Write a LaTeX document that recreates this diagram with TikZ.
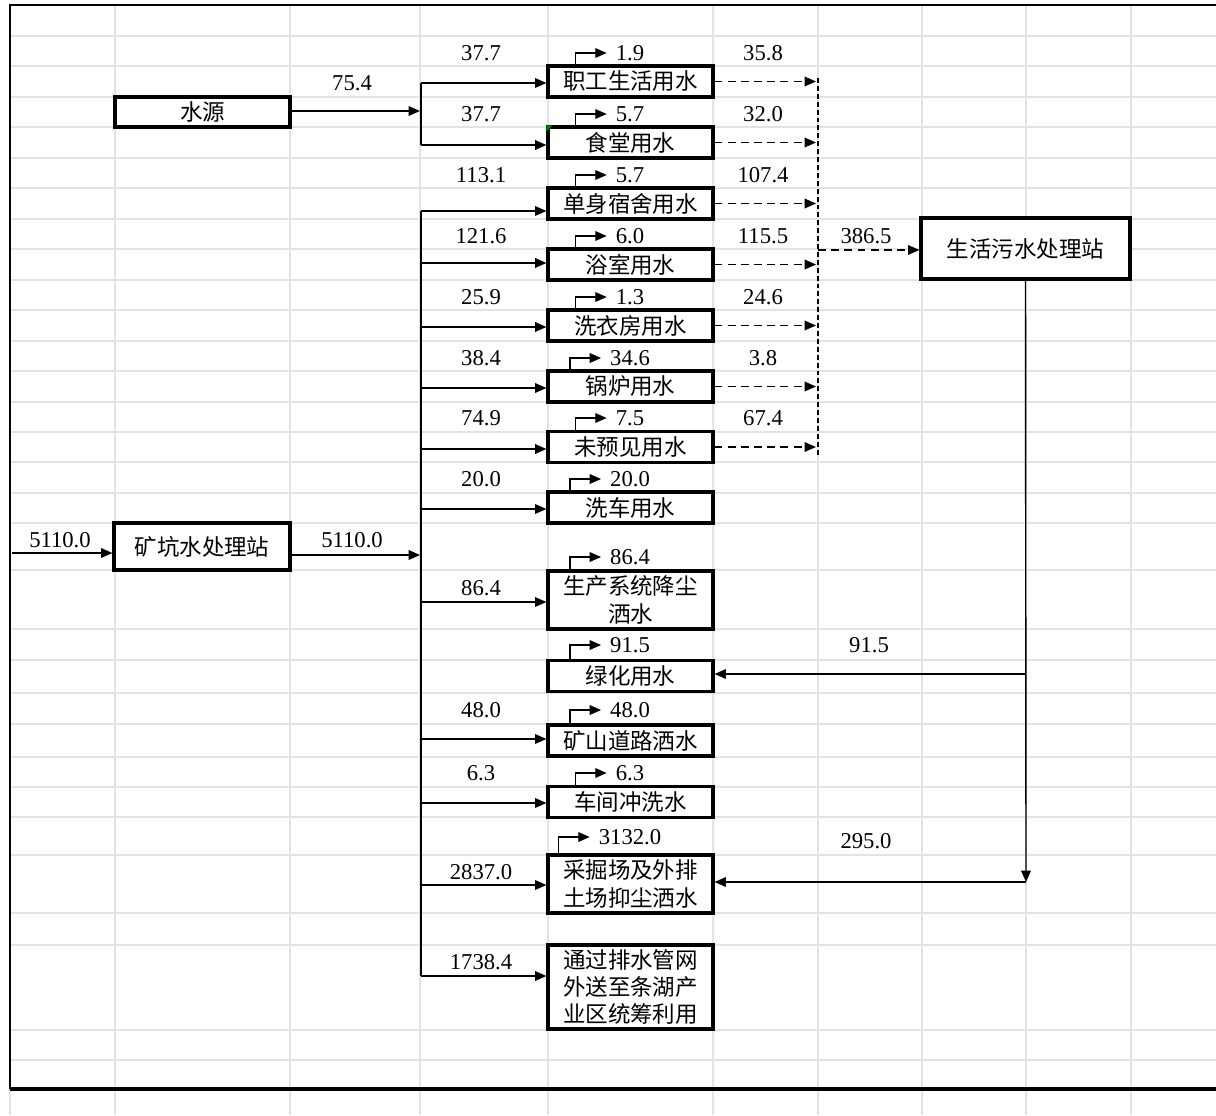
\documentclass[tikz,border=0pt]{standalone}
\usepackage{fontspec}
\setmainfont{Liberation Serif}
\newfontfamily\cjk{Noto Sans CJK SC}
\usetikzlibrary{calc, arrows.meta}

\tikzset{
  box/.style={draw, line width=1.8pt, fill=white, minimum width=3.3cm, minimum height=0.62cm,
    inner sep=1pt, align=center, font=\cjk\fontsize{12.8}{15.5}\selectfont},
  num/.style={inner sep=0pt, font=\fontsize{12.9}{15}\selectfont},
  pipe/.style={line width=0.8pt},
  flow/.style={pipe, -{Triangle[length=6.5pt,width=5.5pt]}},
  waste/.style={flow, dash pattern=on 4.5pt off 3pt},
  loss/.style={flow, shorten >=5pt},
  gline/.style={draw=black!11, line width=0.9pt}
}

\begin{document}
\begin{tikzpicture}[x=0.02cm, y=-0.02cm]
  \useasboundingbox (0,0) rectangle (1216,1115);

  % Sheet grid
  \foreach \gx in {115,290,420,548,713,818,922,1026,1131}
    \draw[gline] (\gx,5) -- (\gx,1115);
  \draw[gline] (10,1089) -- (10,1115);
  \foreach \gy in {36,66,97,127,158,188,219,249,280,310,341,371,402,432,462,493,523,570,629,660,693,724,757,787,817,855,913,945,1030,1060}
    \draw[gline] (10,\gy) -- (1216,\gy);

  % Frame
  \draw[line width=1.2pt] (1216,5) -- (10,5) -- (10,1089);
  \draw[line width=1.8pt] (10,1089) -- (1216,1089);

  % Define boxes
  \node[box, minimum width=3.5cm, minimum height=0.6cm] (src) at (202.5,112) {水源};
  \node[box, minimum width=3.52cm, minimum height=0.94cm] (mine) at (202,546.5) {矿坑水处理站};
  \node[box] (zg) at (630.5,81.5) {职工生活用水};
  \node[box] (st) at (630.5,142.5) {食堂用水};
  \node[box] (ds) at (630.5,203.5) {单身宿舍用水};
  \node[box] (ys) at (630.5,264.5) {浴室用水};
  \node[box] (xy) at (630.5,325.5) {洗衣房用水};
  \node[box] (gl) at (630.5,386.5) {锅炉用水};
  \node[box] (wy) at (630.5,447) {未预见用水};
  \node[box] (xc) at (630.5,507.5) {洗车用水};
  \node[box, minimum height=1.16cm] (sc) at (630.5,600) {生产系统降尘\\洒水};
  \node[box] (lh) at (630.5,676) {绿化用水};
  \node[box] (ks) at (630.5,740.5) {矿山道路洒水};
  \node[box] (cj) at (630.5,802) {车间冲洗水};
  \node[box, minimum height=1.16cm] (cw) at (630.5,884) {采掘场及外排\\土场抑尘洒水};
  \node[box, minimum height=1.68cm] (tg) at (630.5,987) {通过排水管网\\外送至条湖产\\业区统筹利用};
  \node[box, minimum width=4.18cm, minimum height=1.22cm] (wws) at (1025.5,248.5) {生活污水处理站};
  \fill[green!50!black] (st.north west) -- ++(6,0) -- ++(-6,6) -- cycle;

  % Define points
  \coordinate (in) at (12,553);
  \coordinate (s1) at (420,111);
  \coordinate (m1) at (420,555);
  \coordinate (j1) at (421,83);
  \coordinate (j2) at (421,145);
  \coordinate (k3) at (421,211);
  \coordinate (k4) at (421,263);
  \coordinate (k5) at (421,327);
  \coordinate (k6) at (421,388);
  \coordinate (k7) at (421,449);
  \coordinate (k8) at (421,509);
  \coordinate (k9) at (421,602);
  \coordinate (k11) at (421,739);
  \coordinate (k12) at (421,803);
  \coordinate (k13) at (421,885);
  \coordinate (k14) at (421,976);
  \coordinate (cx) at (816,0);
  \coordinate (ctop) at (818,78);
  \coordinate (cbot) at (818,455);
  \coordinate (c0) at (818,250);
  \coordinate (d1) at (1026,674);
  \coordinate (d2) at (1026,882);

  % Supply lines
  \draw[flow] (in) -- (in -| mine.west);
  \draw[flow] (s1 -| src.east) -- (s1);
  \draw[flow] (m1 -| mine.east) -- (m1);
  \draw[pipe] (j1) -- (j2);
  \draw[pipe] (k3) -- (k14);
  \draw[flow] (j1) -- (j1 -| zg.west);
  \draw[flow] (j2) -- (j2 -| st.west);
  \draw[flow] (k3) -- (k3 -| ds.west);
  \draw[flow] (k4) -- (k4 -| ys.west);
  \draw[flow] (k5) -- (k5 -| xy.west);
  \draw[flow] (k6) -- (k6 -| gl.west);
  \draw[flow] (k7) -- (k7 -| wy.west);
  \draw[flow] (k8) -- (k8 -| xc.west);
  \draw[flow] (k9) -- (k9 -| sc.west);
  \draw[flow] (k11) -- (k11 -| ks.west);
  \draw[flow] (k12) -- (k12 -| cj.west);
  \draw[flow] (k13) -- (k13 -| cw.west);
  \draw[flow] (k14) -- (k14 -| tg.west);

  % Wastewater lines
  \draw[waste] (zg.east) -- (zg.east -| cx);
  \draw[waste] (st.east) -- (st.east -| cx);
  \draw[waste] (ds.east) -- (ds.east -| cx);
  \draw[waste] (ys.east) -- (ys.east -| cx);
  \draw[waste] (xy.east) -- (xy.east -| cx);
  \draw[waste] (gl.east) -- (gl.east -| cx);
  \draw[waste] (wy.east) -- (wy.east -| cx);
  \draw[line width=0.6pt, dash pattern=on 2.8pt off 1.7pt] (ctop) -- (cbot);
  \draw[waste] (c0) -- (c0 -| wws.west);

  % Reuse lines
  \draw[flow] (wws.south) -- (d2);
  \draw[flow] (d1) -- (d1 -| lh.east);
  \draw[flow] (d2) -- (d2 -| cw.east);

  % Label flows
  \node[num] (q0) at (352,83) {75.4};
  \node[num] (qin) at (60,540) {5110.0};
  \node[num] (qout) at (352,540) {5110.0};
  \node[num] (q1) at (481,53) {37.7};
  \node[num] (q2) at (481,114) {37.7};
  \node[num] (q3) at (481,175) {113.1};
  \node[num] (q4) at (481,236) {121.6};
  \node[num] (q5) at (481,297) {25.9};
  \node[num] (q6) at (481,358) {38.4};
  \node[num] (q7) at (481,418) {74.9};
  \node[num] (q8) at (481,479) {20.0};
  \node[num] (q9) at (481,588) {86.4};
  \node[num] (q11) at (481,710) {48.0};
  \node[num] (q12) at (481,773) {6.3};
  \node[num] (q13) at (481,872) {2837.0};
  \node[num] (q14) at (481,962) {1738.4};
  \node[num] (r1) at (763,53) {35.8};
  \node[num] (r2) at (763,114) {32.0};
  \node[num] (r3) at (763,175) {107.4};
  \node[num] (r4) at (763,236) {115.5};
  \node[num] (r5) at (763,297) {24.6};
  \node[num] (r6) at (763,358) {3.8};
  \node[num] (r7) at (763,418) {67.4};
  \node[num] (r0) at (866,236) {386.5};
  \node[num] (g1) at (869,645) {91.5};
  \node[num] (g2) at (866,841) {295.0};

  % Label losses
  \node[num] (t1) at (630,53) {1.9};
  \node[num] (t2) at (630,114) {5.7};
  \node[num] (t3) at (630,175) {5.7};
  \node[num] (t4) at (630,236) {6.0};
  \node[num] (t5) at (630,297) {1.3};
  \node[num] (t6) at (630,358) {34.6};
  \node[num] (t7) at (630,418) {7.5};
  \node[num] (t8) at (630,479) {20.0};
  \node[num] (t9) at (630,557) {86.4};
  \node[num] (t10) at (630,645) {91.5};
  \node[num] (t11) at (630,710) {48.0};
  \node[num] (t12) at (630,773) {6.3};
  \node[num] (t13) at (630,837) {3132.0};
  \draw[loss] ($(zg.north -| t1.west)+(-40,0)$) |- (t1.west);
  \draw[loss] ($(st.north -| t2.west)+(-40,0)$) |- (t2.west);
  \draw[loss] ($(ds.north -| t3.west)+(-40,0)$) |- (t3.west);
  \draw[loss] ($(ys.north -| t4.west)+(-40,0)$) |- (t4.west);
  \draw[loss] ($(xy.north -| t5.west)+(-40,0)$) |- (t5.west);
  \draw[loss] ($(gl.north -| t6.west)+(-40,0)$) |- (t6.west);
  \draw[loss] ($(wy.north -| t7.west)+(-40,0)$) |- (t7.west);
  \draw[loss] ($(xc.north -| t8.west)+(-40,0)$) |- (t8.west);
  \draw[loss] ($(sc.north -| t9.west)+(-40,0)$) |- (t9.west);
  \draw[loss] ($(lh.north -| t10.west)+(-40,0)$) |- (t10.west);
  \draw[loss] ($(ks.north -| t11.west)+(-40,0)$) |- (t11.west);
  \draw[loss] ($(cj.north -| t12.west)+(-40,0)$) |- (t12.west);
  \draw[loss] ($(cw.north -| t13.west)+(-40,0)$) |- (t13.west);
\end{tikzpicture}
\end{document}
